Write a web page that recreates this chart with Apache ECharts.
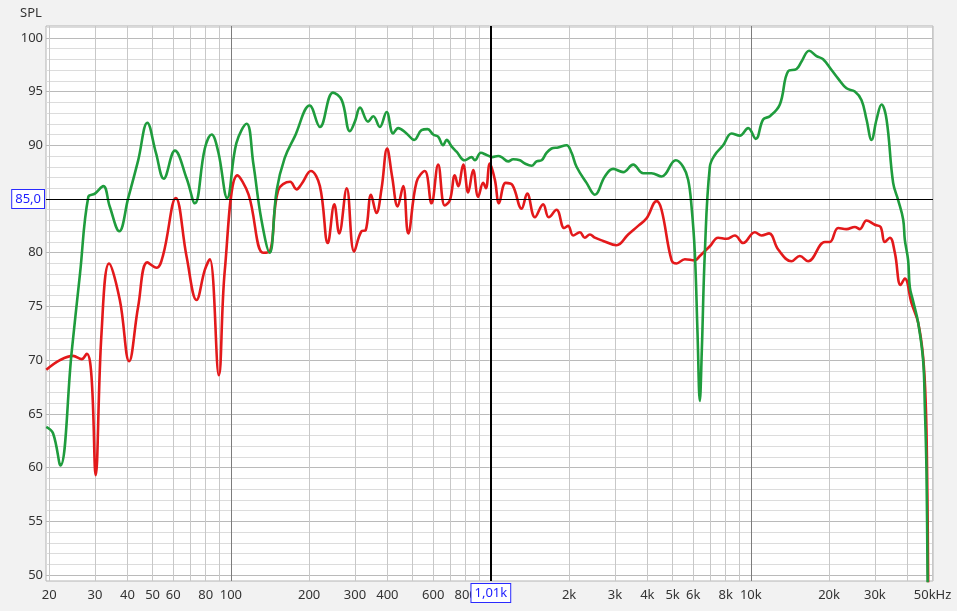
<!DOCTYPE html>
<html><head><meta charset="utf-8">
<script src="https://cdn.jsdelivr.net/npm/echarts@6/dist/echarts.min.js"></script>
<style>html,body{margin:0;padding:0;background:#f2f2f2}#c{width:957px;height:611px}</style>
</head><body><div id="c"></div>
<script>
// [frequency Hz, SPL dB]
const redCurve = [
 [19.5,69.1],[22.0,70.0],[24.7,70.4],[26.7,70.1],[27.9,70.6],[29.1,68.5],[30.2,59.3],[31.8,72.5],[34.0,79.0],[37.4,75.6],
 [40.6,69.9],[44.0,75.0],[47.7,79.1],[51.8,78.6],[54.9,79.8],[61.4,85.1],[67.6,79.6],[73.8,75.6],[79.4,78.4],[83.0,79.4],
 [89.9,68.6],[94.8,78.4],[106,87.2],[117,85.4],[133,80.0],[141,80.1],[152,85.8],[169,86.6],[179,85.9],[187,86.4],
 [203,87.6],[220,86.2],[236,80.9],[250,84.5],[261,81.8],[279,86.0],[298,80.1],[318,82.0],[330,82.1],[346,85.4],
 [363,83.7],[380,86.0],[399,89.7],[417,87.1],[438,84.3],[460,86.2],[481,81.8],[518,86.6],[557,87.6],[591,84.6],
 [627,88.2],[665,84.4],[696,84.9],[727,87.2],[749,86.2],[783,88.2],[818,85.6],[855,87.7],[894,85.2],[934,86.5],
 [957,86.0],[991,88.3],[1036,86.8],[1075,84.6],[1140,86.5],[1210,86.3],[1313,84.1],[1380,85.5],[1477,83.3],[1589,84.5],
 [1670,83.3],[1789,84.0],[1914,82.3],[1983,82.5],[2073,81.6],[2200,81.9],[2299,81.4],[2404,81.7],[2512,81.4],[2704,81.1],
 [3045,80.7],[3374,81.7],[3686,82.5],[3971,83.2],[4339,84.8],[4535,84.0],[4955,79.3],[5178,79.0],[5574,79.4],[6090,79.3],
 [6365,79.7],[6955,80.6],[7486,81.4],[8063,81.3],[8680,81.6],[9341,80.9],[10360,81.9],[11000,81.6],[11760,81.8],[12740,80.3],
 [14340,79.2],[15430,79.7],[16610,79.2],[19260,81.0],[20140,81.0],[21670,82.3],[23340,82.2],[25120,82.4],[26260,82.2],[27860,83.0],
 [29990,82.6],[31540,82.4],[32770,81.0],[34250,81.4],[35810,80.0],[37660,77.0],[39120,77.6],[41510,75.3],[44000,73.5],[45990,70.3],
 [47110,65.7],[47650,59.5],[48070,50.2],[48200,45.0]
];
const greenCurve = [
 [19.5,63.8],[20.7,63.2],[22.1,60.2],[24.4,70.7],[26.3,78.1],[28.3,85.2],[30.0,85.5],[32.3,86.2],[34.2,84.3],[37.2,82.0],
 [40.3,85.1],[44.0,88.6],[47.7,92.1],[51.5,89.3],[55.2,86.9],[60.9,89.5],[67.6,86.9],[72.7,84.6],[79.4,89.7],[84.3,91.0],
 [89.4,89.4],[96.8,85.1],[105,90.2],[115,92.0],[122,88.3],[131,83.1],[141,80.0],[150,85.8],[161,88.8],[176,90.8],
 [201,93.7],[220,91.7],[247,94.9],[267,94.2],[287,91.3],[300,92.2],[314,93.5],[337,92.2],[353,92.7],[374,91.7],
 [397,93.1],[421,91.1],[440,91.6],[474,91.1],[507,90.5],[541,91.4],[571,91.5],[600,91.0],[627,90.8],[655,90.0],
 [676,90.5],[706,89.9],[738,89.4],[794,88.6],[843,88.9],[868,88.6],[915,89.3],[963,89.1],[1012,88.9],[1067,89.0],
 [1100,88.9],[1166,88.5],[1219,88.7],[1293,88.6],[1352,88.3],[1434,88.1],[1499,88.5],[1567,88.6],[1638,89.3],[1712,89.7],
 [1815,89.8],[1955,90.0],[2044,89.3],[2136,88.0],[2334,86.5],[2512,85.4],[2745,87.1],[2954,87.8],[3228,87.5],[3527,88.2],
 [3854,87.4],[4151,87.4],[4535,87.1],[5146,88.6],[5490,88.0],[5739,86.8],[5915,84.3],[6090,80.0],[6237,72.5],[6365,66.2],
 [6480,71.0],[6654,80.0],[6955,88.0],[7270,89.1],[7826,90.0],[8430,91.1],[9072,90.9],[9763,91.6],[10450,90.6],[11150,92.4],
 [11840,92.7],[12930,93.8],[13920,96.9],[14990,97.1],[15670,97.8],[16760,98.8],[17890,98.3],[18970,98.0],[20440,97.0],[21670,96.2],
 [23340,95.3],[25120,95.0],[26660,94.2],[27860,92.4],[29120,90.5],[30450,92.4],[31820,93.8],[33270,92.4],[35270,86.5],[36870,84.9],
 [38540,83.1],[39120,81.2],[40270,79.3],[40880,76.8],[42090,75.5],[44000,73.5],[45990,70.0],[46690,65.7],[47400,59.5],[47820,50.2],
 [48100,45.0]
];
const xGridFreqs = [20,30,40,50,60,70,80,90,100,200,300,400,500,600,700,800,900,1000,2000,3000,4000,5000,6000,7000,8000,9000,10000,20000,30000,40000,50000];
const xTickFreqs = [20,30,40,50,60,80,100,200,300,400,600,800,2000,3000,4000,5000,6000,8000,10000,20000,30000,50000];
const xTickLabels = ['20','30','40','50','60','80','100','200','300','400','600','800','2k','3k','4k','5k','6k','8k','10k','20k','30k','50kHz'];
const yGridLevels = [50,51,52,53,54,55,56,57,58,59,60,61,62,63,64,65,66,67,68,69,70,71,72,73,74,75,76,77,78,79,80,81,82,83,84,85,86,87,88,89,90,91,92,93,94,95,96,97,98,99,100,101];
const yTickLevels = [50,55,60,65,70,75,80,85,90,95,100];
const cursorFreq = 1010, cursorFreqLabel = '1,01k';
const cursorLevel = 85, cursorLevelLabel = '85,0';
const freqMin = 19.45, freqMax = 50200, levelMin = 49.45, levelMax = 101.1;

const lg = Math.log10;
const labelByFreq = {};
xTickFreqs.forEach((f, i) => { labelByFreq[f] = xTickLabels[i]; });
const toLog = arr => arr.map(p => [lg(p[0]), p[1]]);
const FONT = 'Noto Sans';
const minorX = '#c8c8c8', majorX = '#7c7c7c';
const minorY = '#dcdcdc', majorY = '#bababa';

const boxLabel = {
  show: true, position: 'start', color: '#1c1cff', fontFamily: FONT, fontSize: 13,
  backgroundColor: '#ffffff', borderColor: '#2a2aff', borderWidth: 1, padding: [3, 3, 2, 3]
};

const chart = echarts.init(document.getElementById('c'), null, {renderer: 'canvas'});
chart.setOption({
  animation: false,
  backgroundColor: '#f2f2f2',
  title: {text: 'SPL', left: 15, top: 2, textStyle: {fontFamily: FONT, fontSize: 13, fontWeight: 'normal', color: '#333'}},
  grid: {left: 46, right: 24, top: 26, bottom: 30, show: true, backgroundColor: '#ffffff', borderColor: '#b4b4b4', borderWidth: 1},
  xAxis: {
    type: 'value', min: lg(freqMin), max: lg(freqMax),
    axisLine: {show: false},
    axisTick: {show: false, customValues: xGridFreqs.map(lg)},
    axisLabel: {
      customValues: xTickFreqs.map(lg), margin: 8, color: '#333', fontFamily: FONT, fontSize: 13,
      formatter: v => labelByFreq[Math.round(Math.pow(10, v))] || ''
    },
    splitLine: {show: true, lineStyle: {width: 1, color: [minorX, minorX, minorX, minorX, minorX, minorX, minorX, minorX, majorX]}}
  },
  yAxis: {
    type: 'value', min: levelMin, max: levelMax,
    axisLine: {show: false},
    axisTick: {show: false, customValues: yGridLevels},
    axisLabel: {customValues: yTickLevels, margin: 3, color: '#333', fontFamily: FONT, fontSize: 13},
    splitLine: {show: true, lineStyle: {width: 1, color: [majorY, minorY, minorY, minorY, minorY]}}
  },
  series: [
    {type: 'line', name: 'red', data: toLog(redCurve), symbol: 'none', smooth: 0.4,
     lineStyle: {color: '#e3191b', width: 2.6}, z: 3},
    {type: 'line', name: 'green', data: toLog(greenCurve), symbol: 'none', smooth: 0.4,
     lineStyle: {color: '#1f9c3d', width: 2.6}, z: 4},
    {type: 'line', name: 'cursor', data: [], z: 5,
     markLine: {
       silent: true, symbol: 'none', animation: false,
       data: [
         {xAxis: lg(cursorFreq), lineStyle: {color: '#000', width: 2, type: 'solid'},
          label: Object.assign({}, boxLabel, {formatter: cursorFreqLabel, distance: 3})},
         {yAxis: cursorLevel, lineStyle: {color: '#000', width: 1.2, type: 'solid'},
          label: Object.assign({}, boxLabel, {formatter: cursorLevelLabel, distance: 2})}
       ]
     }}
  ]
});
</script></body></html>
